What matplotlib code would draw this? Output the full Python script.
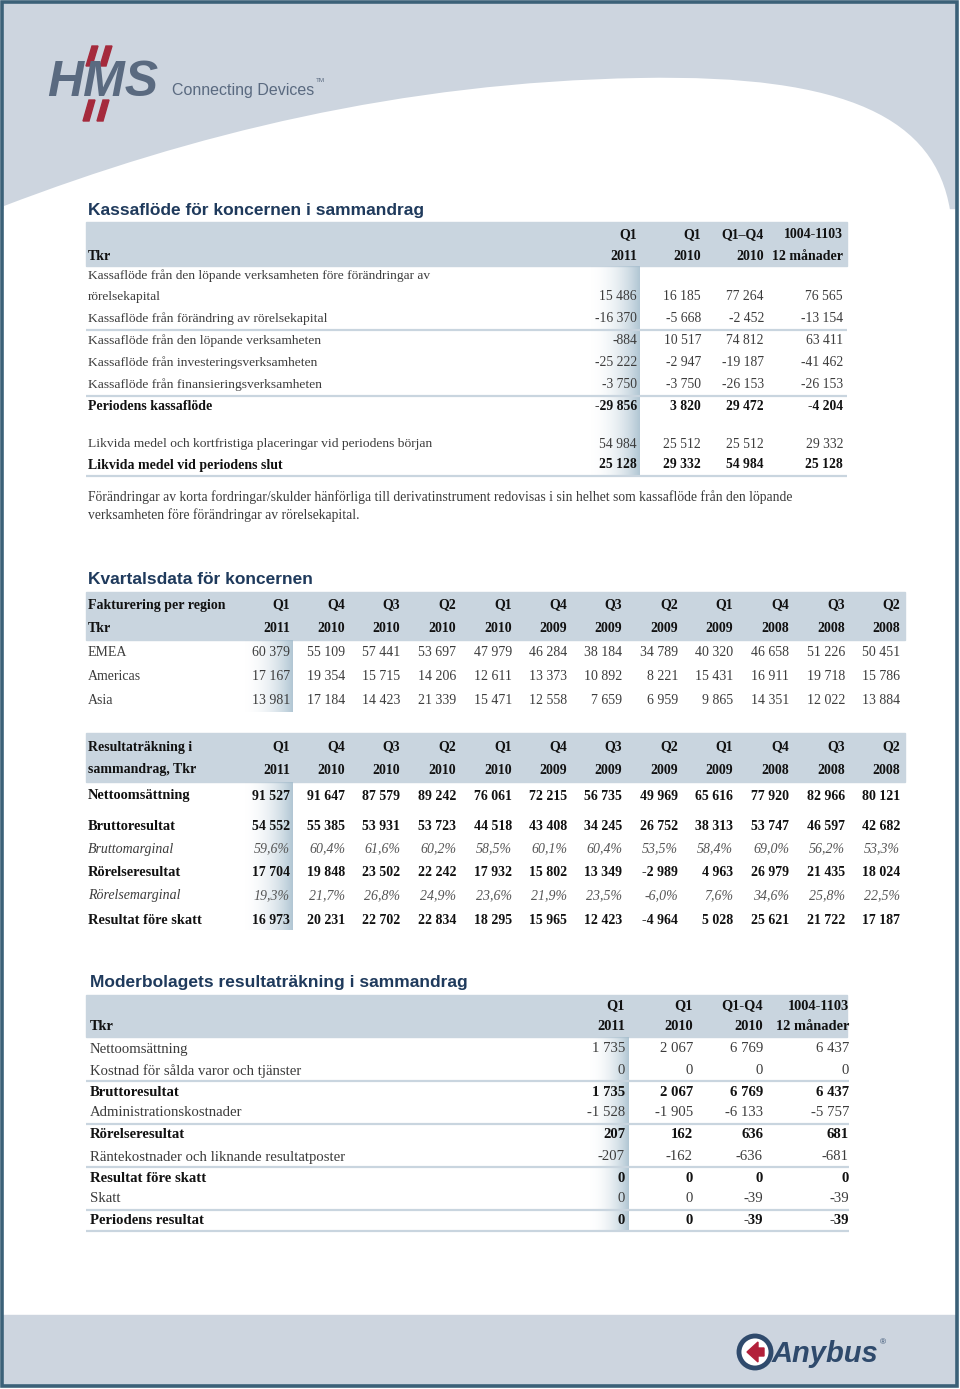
import numpy as np
import matplotlib
matplotlib.use("Agg")
import matplotlib.pyplot as plt
from matplotlib.patches import Rectangle, Polygon, PathPatch, Circle
from matplotlib.path import Path

# --- data -------------------------------------------------------------
cf_head_top = ["Q1", "Q1", "Q1–Q4", "1004-1103"]
cf_head_bot = ["2011", "2010", "2010", "12 månader"]
cf_labels = [
    "Kassaflöde från den löpande verksamheten före förändringar av\nrörelsekapital",
    "Kassaflöde från förändring av rörelsekapital",
    "Kassaflöde från den löpande verksamheten",
    "Kassaflöde från investeringsverksamheten",
    "Kassaflöde från finansieringsverksamheten",
    "Periodens kassaflöde",
    "Likvida medel och kortfristiga placeringar vid periodens början",
    "Likvida medel vid periodens slut",
]
cf_values = [
    [15486, 16185, 77264, 76565],
    [-16370, -5668, -2452, -13154],
    [-884, 10517, 74812, 63411],
    [-25222, -2947, -19187, -41462],
    [-3750, -3750, -26153, -26153],
    [-29856, 3820, 29472, -4204],
    [54984, 25512, 25512, 29332],
    [25128, 29332, 54984, 25128],
]
cf_bold = [False, False, False, False, False, True, False, True]
cf_note = ("Förändringar av korta fordringar/skulder hänförliga till derivatinstrument redovisas i sin helhet som kassaflöde från den löpande\n"
           "verksamheten före förändringar av rörelsekapital.")

quarters = ["Q1", "Q4", "Q3", "Q2", "Q1", "Q4", "Q3", "Q2", "Q1", "Q4", "Q3", "Q2"]
years = ["2011", "2010", "2010", "2010", "2010", "2009", "2009", "2009", "2009", "2008", "2008", "2008"]
regions = ["EMEA", "Americas", "Asia"]
emea = [60379, 55109, 57441, 53697, 47979, 46284, 38184, 34789, 40320, 46658, 51226, 50451]
americas = [17167, 19354, 15715, 14206, 12611, 13373, 10892, 8221, 15431, 16911, 19718, 15786]
asia = [13981, 17184, 14423, 21339, 15471, 12558, 7659, 6959, 9865, 14351, 12022, 13884]

netto = [91527, 91647, 87579, 89242, 76061, 72215, 56735, 49969, 65616, 77920, 82966, 80121]
brutto = [54552, 55385, 53931, 53723, 44518, 43408, 34245, 26752, 38313, 53747, 46597, 42682]
bruttomarginal = [59.6, 60.4, 61.6, 60.2, 58.5, 60.1, 60.4, 53.5, 58.4, 69.0, 56.2, 53.3]
rorelse = [17704, 19848, 23502, 22242, 17932, 15802, 13349, -2989, 4963, 26979, 21435, 18024]
rorelsemarginal = [19.3, 21.7, 26.8, 24.9, 23.6, 21.9, 23.5, -6.0, 7.6, 34.6, 25.8, 22.5]
fore_skatt = [16973, 20231, 22702, 22834, 18295, 15965, 12423, -4964, 5028, 25621, 21722, 17187]

mb_head_top = ["Q1", "Q1", "Q1-Q4", "1004-1103"]
mb_head_bot = ["2011", "2010", "2010", "12 månader"]
mb_labels = ["Nettoomsättning", "Kostnad för sålda varor och tjänster", "Bruttoresultat",
             "Administrationskostnader", "Rörelseresultat", "Räntekostnader och liknande resultatposter",
             "Resultat före skatt", "Skatt", "Periodens resultat"]
mb_values = [
    [1735, 2067, 6769, 6437],
    [0, 0, 0, 0],
    [1735, 2067, 6769, 6437],
    [-1528, -1905, -6133, -5757],
    [207, 162, 636, 681],
    [-207, -162, -636, -681],
    [0, 0, 0, 0],
    [0, 0, -39, -39],
    [0, 0, -39, -39],
]
mb_bold = [False, False, True, False, True, False, True, False, True]

# --- style --------------------------------------------------------------
SERIF = ["Liberation Serif", "DejaVu Serif"]
SANS = ["Liberation Sans", "DejaVu Sans"]
BAND = "#c9d5df"
FRAME = "#3b6178"
GREY = "#cdd5df"
TITLE = "#1f3a5c"
TXT = "#3c3c3c"
DARK = "#111111"


def fmt(v):
    return f"{v:,}".replace(",", " ")


def pct(v):
    return f"{v:.1f}%".replace(".", ",")


fig = plt.figure(figsize=(9.6, 13.89), dpi=100)
ax = fig.add_axes([0, 0, 1, 1])


def shade(x0, x1, y0, y1):
    t = np.linspace(0, 1, 80)
    rgba = np.zeros((2, 80, 4))
    rgba[..., 0] = 0.64
    rgba[..., 1] = 0.74
    rgba[..., 2] = 0.80
    rgba[..., 3] = (t ** 2.2) * 0.85
    ax.imshow(rgba, extent=(x0, x1, y1, y0), aspect="auto", zorder=1, interpolation="bilinear")


def txt(x, y, s, ha="left", bold=False, italic=False, size=9.6, color=None):
    ax.text(x, y, s, ha=ha, va="center", family=SERIF, fontsize=size,
            fontweight="bold" if bold else "normal",
            fontstyle="italic" if italic else "normal",
            color=color or (DARK if bold else TXT), zorder=3)


def hline(x0, x1, y, lw=1.6):
    ax.plot([x0, x1], [y, y], color=BAND, lw=lw, zorder=2, solid_capstyle="butt")


# --- page decoration ------------------------------------------------------
ax.add_patch(Rectangle((3, 3), 953, 205, color=GREY, zorder=0))
verts = [(4, 206), (190, 135), (400, 82), (640, 78),
         (850, 74), (935, 120), (950, 210), (4, 210), (4, 206)]
codes = [Path.MOVETO, Path.CURVE4, Path.CURVE4, Path.CURVE4,
         Path.CURVE4, Path.CURVE4, Path.CURVE4, Path.LINETO, Path.CLOSEPOLY]
ax.add_patch(PathPatch(Path(verts, codes), facecolor="white", edgecolor="none", zorder=0.5))
ax.add_patch(Rectangle((3, 1315), 953, 70, color=GREY, zorder=0))
ax.add_patch(Rectangle((2, 2), 955, 1384, fill=False, edgecolor=FRAME, lw=2.6, zorder=5))

# HMS logo
for dx, y0, y1 in [(0, 46, 66), (14, 46, 66), (-3, 100, 121), (11, 100, 121)]:
    x = 86 + dx
    ax.add_patch(Polygon([(x + 6, y0), (x + 12, y0), (x + 6, y1), (x, y1)],
                         color="#a52a3c", zorder=2))
ax.text(47, 83, "HMS", family=SANS, fontsize=36, fontweight="bold", fontstyle="italic",
        color="#5a6a80", va="center", ha="left", zorder=3)
ax.text(172, 90, "Connecting Devices", family=["Liberation Sans Narrow", "Liberation Sans"],
        fontsize=11.5, color="#5a6a80", va="center", ha="left", zorder=3)
ax.text(316, 80, "TM", family=SANS, fontsize=4.5, color="#5a6a80", va="center", zorder=3)

# Anybus logo
ax.add_patch(Circle((755, 1352), 16, facecolor="white", edgecolor="#2f4a6c", lw=3.5, zorder=2))
ax.add_patch(Polygon([(747, 1352), (758, 1342), (758, 1348), (764, 1348), (764, 1356),
                      (758, 1356), (758, 1362)], color="#b3203a", zorder=3))
ax.text(772, 1354, "Anybus", family=SANS, fontsize=21, fontweight="bold", fontstyle="italic",
        color="#2f4a6c", va="center", ha="left", zorder=3)
ax.text(880, 1343, "®", family=SANS, fontsize=6, color="#2f4a6c", va="center", zorder=3)

# --- table 1: Kassaflöde ----------------------------------------------------
ax.text(88, 211, "Kassaflöde för koncernen i sammandrag", family=SANS, fontsize=12.5,
        fontweight="bold", color=TITLE, va="center", zorder=3)
ax.add_patch(Rectangle((86, 222), 761, 44, color=BAND, zorder=1))
shade(586, 640, 266, 476)
cf_x = [637, 701, 764, 843]
for x, a, b in zip(cf_x, cf_head_top, cf_head_bot):
    txt(x, 235, a, ha="right", bold=True, size=10)
    txt(x, 256, b, ha="right", bold=True, size=10)
txt(88, 256, "Tkr", bold=True, size=10)

cf_y = [297, 319, 341, 363, 385, 407, 444, 465]
for lab, vals, b, y in zip(cf_labels, cf_values, cf_bold, cf_y):
    if "\n" in lab:
        l1, l2 = lab.split("\n")
        txt(88, y - 21, l1)
        txt(88, y, l2)
    else:
        txt(88, y, lab, bold=b, size=10 if b else 9.7)
    for x, v in zip(cf_x, vals):
        txt(x, y, fmt(v), ha="right", bold=b, size=9.8)
for y in [330, 396, 476]:
    hline(86, 847, y)
txt(88, 497, cf_note.split("\n")[0], size=9.8)
txt(88, 515, cf_note.split("\n")[1], size=9.8)

# --- table 2: Kvartalsdata ------------------------------------------------
ax.text(88, 580, "Kvartalsdata för koncernen", family=SANS, fontsize=12.5,
        fontweight="bold", color=TITLE, va="center", zorder=3)
q_x = [290, 345, 400, 456, 512, 567, 622, 678, 733, 789, 845, 900]
ax.add_patch(Rectangle((86, 592), 819, 48, color=BAND, zorder=1))
shade(240, 293, 640, 712)
txt(88, 605, "Fakturering per region", bold=True, size=10)
txt(88, 628, "Tkr", bold=True, size=10)
for x, q, yr in zip(q_x, quarters, years):
    txt(x, 605, q, ha="right", bold=True, size=10)
    txt(x, 628, yr, ha="right", bold=True, size=10)
for lab, vals, y in zip(regions, [emea, americas, asia], [652, 676, 700]):
    txt(88, y, lab, size=10)
    for x, v in zip(q_x, vals):
        txt(x, y, fmt(v), ha="right", size=10)

ax.add_patch(Rectangle((86, 733), 819, 49, color=BAND, zorder=1))
shade(240, 293, 782, 930)
txt(88, 747, "Resultaträkning i", bold=True, size=10)
txt(88, 770, "sammandrag, Tkr", bold=True, size=10)
for x, q, yr in zip(q_x, quarters, years):
    txt(x, 747, q, ha="right", bold=True, size=10)
    txt(x, 770, yr, ha="right", bold=True, size=10)
res_rows = [
    ("Nettoomsättning", netto, False, 796),
    ("Bruttoresultat", brutto, False, 826),
    ("Bruttomarginal", bruttomarginal, True, 849),
    ("Rörelseresultat", rorelse, False, 872),
    ("Rörelsemarginal", rorelsemarginal, True, 896),
    ("Resultat före skatt", fore_skatt, False, 920),
]
for lab, vals, is_pct, y in res_rows:
    if is_pct:
        txt(88, y, lab, italic=True, size=10)
        for x, v in zip(q_x, vals):
            txt(x, y, pct(v), ha="right", italic=True, size=10, color="#555555")
    else:
        txt(88, y, lab, bold=True, size=10.4)
        for x, v in zip(q_x, vals):
            txt(x, y, fmt(v), ha="right", bold=True, size=10)

# --- table 3: Moderbolaget ------------------------------------------------
ax.text(90, 983, "Moderbolagets resultaträkning i sammandrag", family=SANS, fontsize=12.5,
        fontweight="bold", color=TITLE, va="center", zorder=3)
ax.add_patch(Rectangle((86, 995), 761, 42, color=BAND, zorder=1))
shade(586, 629, 1037, 1231)
mb_x = [625, 693, 763, 849]
for x, a, b in zip(mb_x, mb_head_top, mb_head_bot):
    txt(x, 1006, a, ha="right", bold=True, size=10.4)
    txt(x, 1027, b, ha="right", bold=True, size=10.4)
txt(90, 1027, "Tkr", bold=True, size=10.4)
mb_y = [1049, 1071, 1092, 1113, 1135, 1157, 1178, 1199, 1220]
for lab, vals, b, y in zip(mb_labels, mb_values, mb_bold, mb_y):
    txt(90, y, lab, bold=b, size=10.6)
    for x, v in zip(mb_x, vals):
        txt(x, y, fmt(v), ha="right", bold=b, size=10.6)
for y in [1081, 1124, 1167, 1210, 1231]:
    hline(86, 849, y)

ax.set_xlim(0, 960)
ax.set_ylim(1389, 0)
ax.axis("off")
fig.savefig("out.png", dpi=100)
